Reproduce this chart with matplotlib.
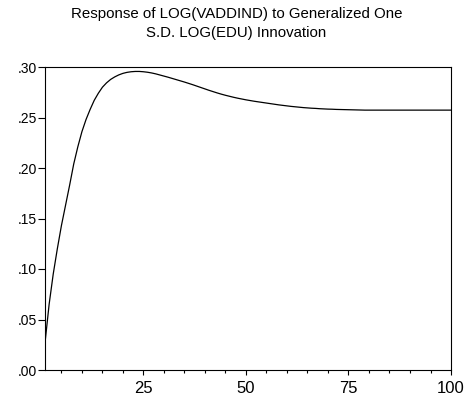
import matplotlib
matplotlib.use("Agg")
import matplotlib.pyplot as plt
from matplotlib.ticker import FixedLocator

plt.rcParams['font.family'] = ['Liberation Sans', 'DejaVu Sans']

response = [
    0.027, 0.065, 0.095, 0.120, 0.143, 0.163, 0.183, 0.204, 0.221, 0.236,
    0.248, 0.258, 0.267, 0.274, 0.280, 0.2843, 0.2877, 0.2902, 0.2922, 0.2937,
    0.2947, 0.2953, 0.2956, 0.2956, 0.2953, 0.2948, 0.2941, 0.2932, 0.2921, 0.2910,
    0.2899, 0.2887, 0.2875, 0.2863, 0.2851, 0.2838, 0.2825, 0.2811, 0.2797, 0.2783,
    0.2769, 0.2756, 0.2743, 0.2731, 0.2720, 0.2710, 0.2700, 0.2691, 0.2683, 0.2675,
    0.2668, 0.2661, 0.2655, 0.2649, 0.2643, 0.2637, 0.2631, 0.2625, 0.2620, 0.2615,
    0.2610, 0.2606, 0.2602, 0.2598, 0.2595, 0.2592, 0.2590, 0.2587, 0.2585, 0.2583,
    0.2582, 0.2580, 0.2579, 0.2578, 0.2577, 0.2576, 0.2575, 0.2574, 0.2573, 0.2573,
    0.2573, 0.2573, 0.2573, 0.2573, 0.2573, 0.2573, 0.2573, 0.2573, 0.2573, 0.2573,
    0.2573, 0.2573, 0.2573, 0.2573, 0.2573, 0.2573, 0.2573, 0.2573, 0.2573, 0.2573,
]
periods = list(range(1, len(response) + 1))

y_ticks = [0.00, 0.05, 0.10, 0.15, 0.20, 0.25, 0.30]
y_tick_labels = [".00", ".05", ".10", ".15", ".20", ".25", ".30"]
x_ticks = [25, 50, 75, 100]
x_tick_labels = ["25", "50", "75", "100"]
x_minor_ticks = [5, 10, 15, 20, 30, 35, 40, 45, 55, 60, 65, 70, 80, 85, 90, 95]
title = "Response of LOG(VADDIND) to Generalized One\nS.D. LOG(EDU) Innovation"

fig = plt.figure(figsize=(4.68, 4.00), dpi=100)
ax = fig.add_axes([0.0962, 0.075, 0.8675, 0.7575])
ax.plot(periods, response, color='black', linewidth=0.9)

ax.set_xlim(1, 100)
ax.set_ylim(0.0, 0.30)
ax.set_yticks(y_ticks)
ax.set_yticklabels(y_tick_labels)
ax.set_xticks(x_ticks)
ax.set_xticklabels(x_tick_labels)
ax.xaxis.set_minor_locator(FixedLocator(x_minor_ticks))

ax.tick_params(axis='y', which='major', direction='out', length=5, width=0.8,
               labelsize=10, colors='black', pad=1)
ax.tick_params(axis='x', which='major', direction='out', length=3.5, width=0.8,
               labelsize=12, colors='black', pad=4.5)
ax.tick_params(axis='x', which='minor', direction='out', length=2.2, width=0.8)
for s in ax.spines.values():
    s.set_linewidth(0.8)
    s.set_color('black')

fig.text(0.505, 0.941, title, ha='center', va='center', fontsize=10.8, linespacing=1.4)

fig.savefig('out.png', dpi=100)
